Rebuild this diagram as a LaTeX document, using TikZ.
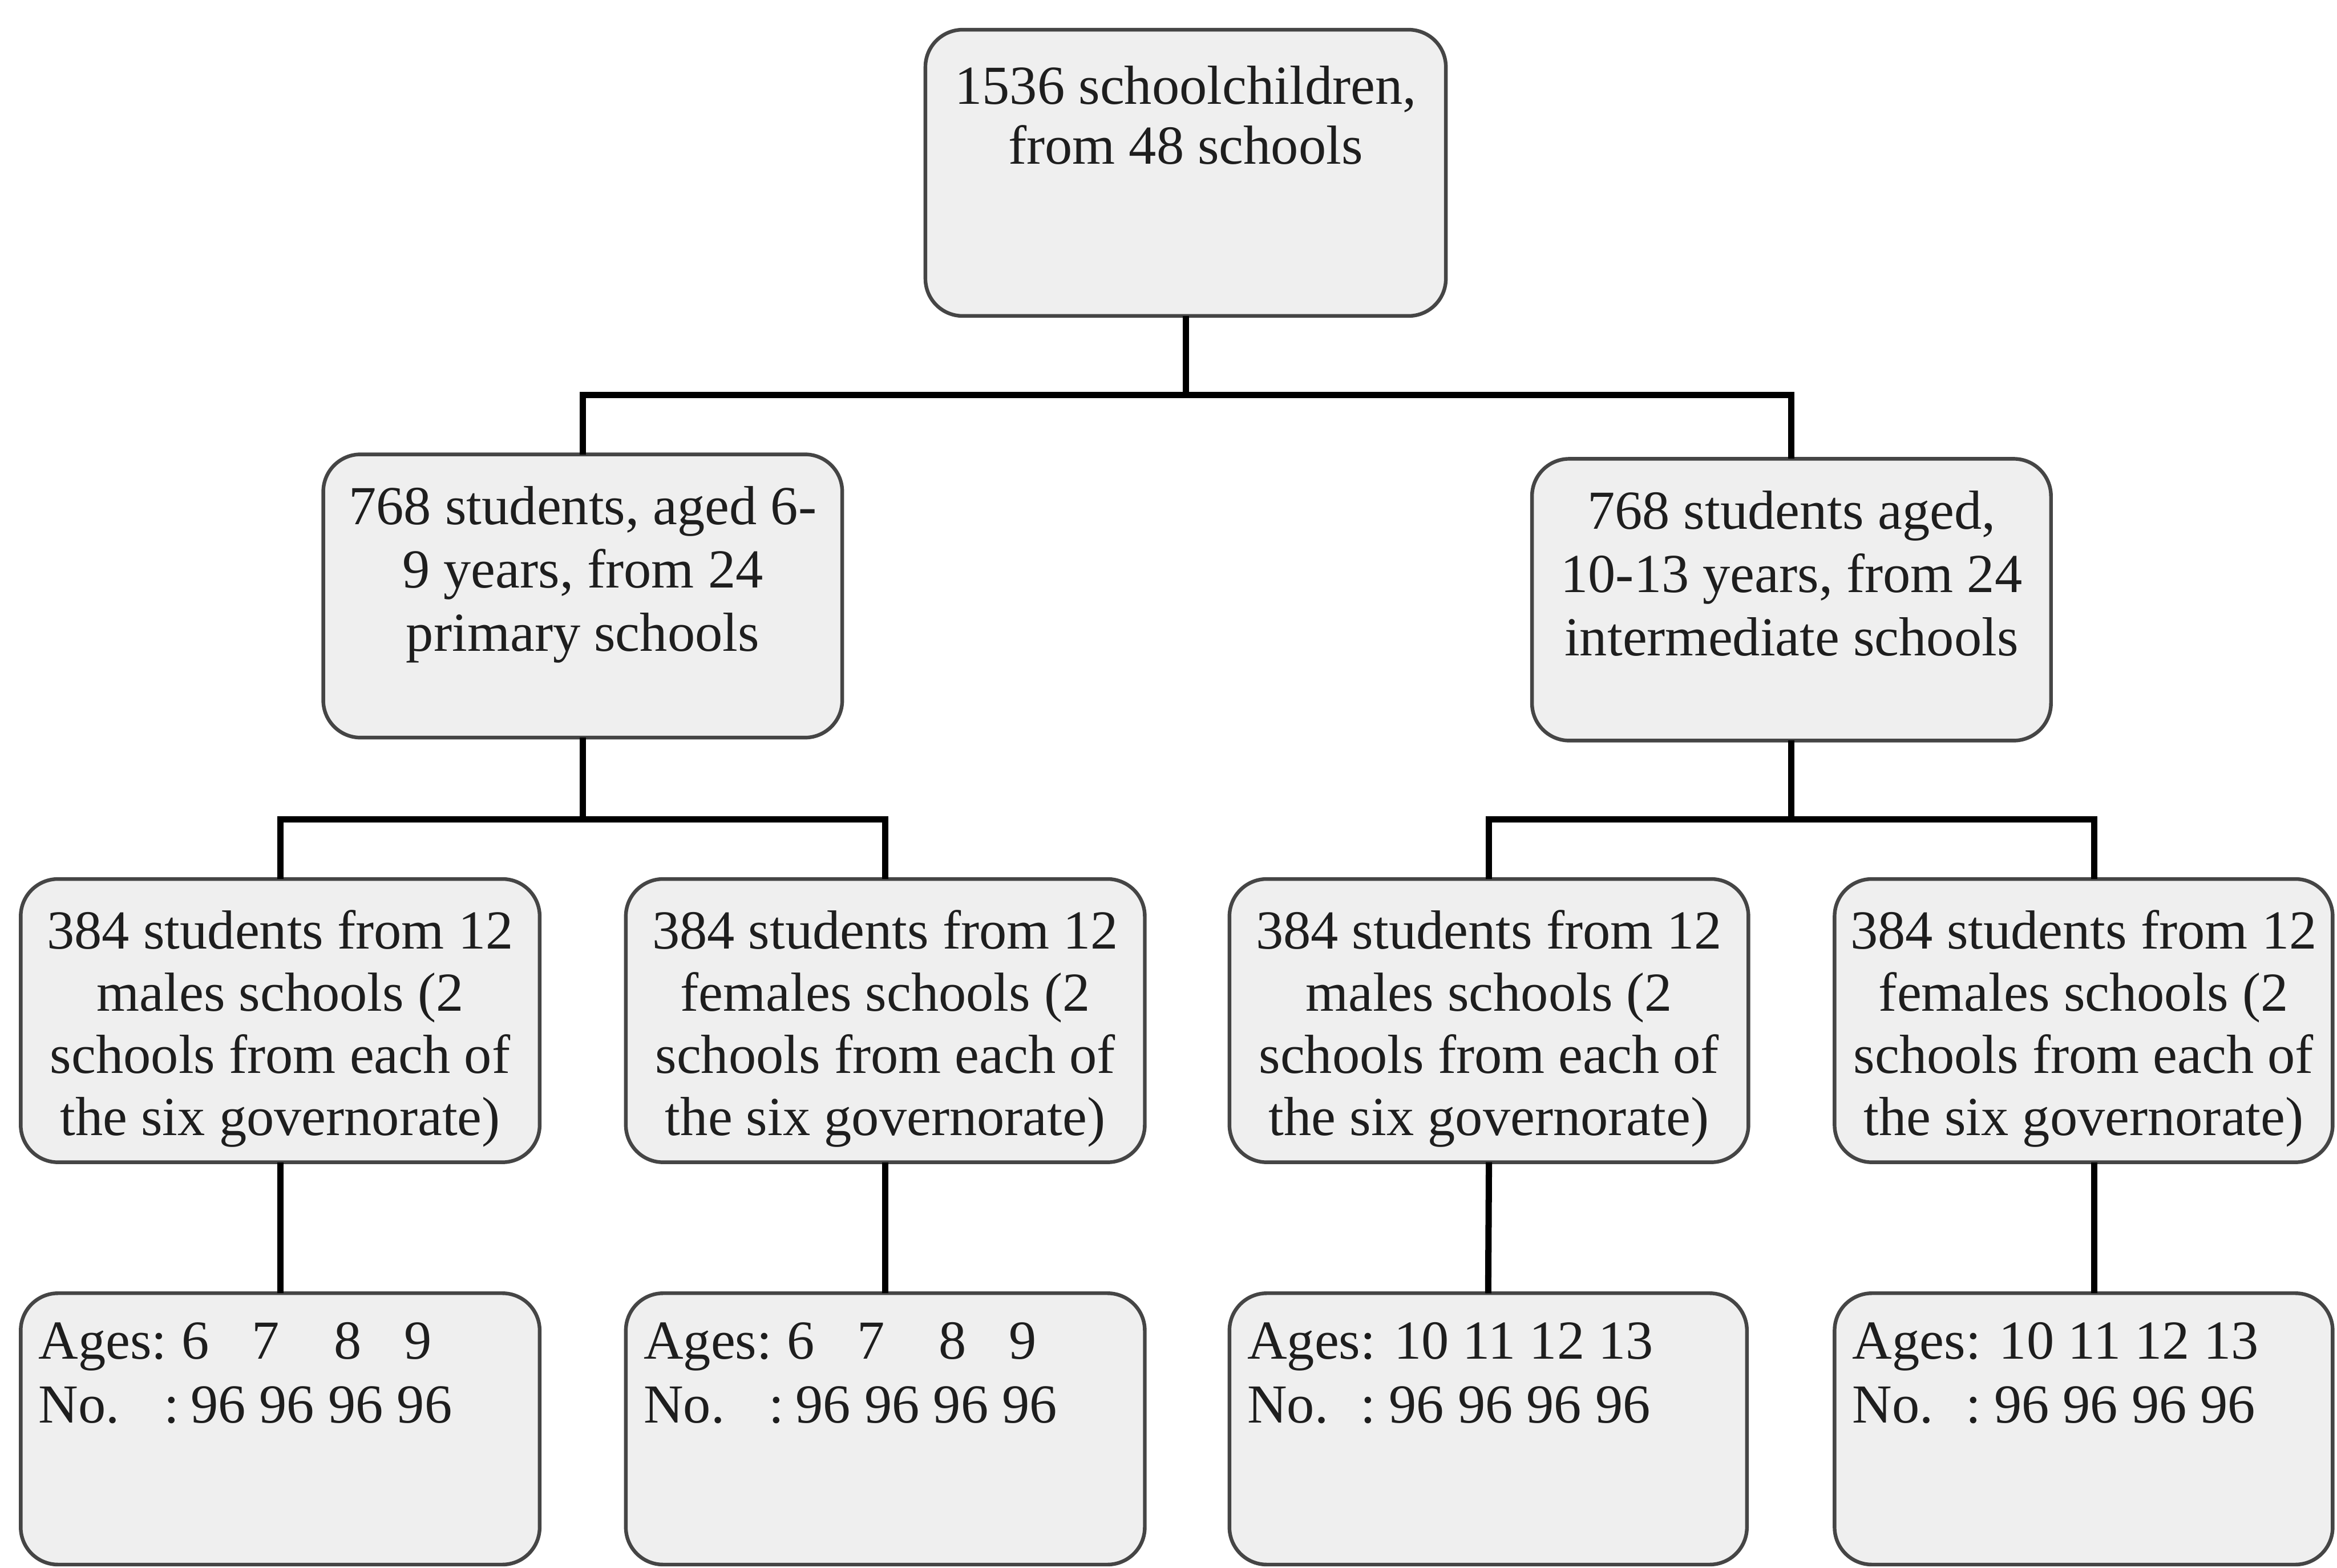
\documentclass[tikz,border=0pt]{standalone}
\usepackage{fontspec}
\setmainfont{Liberation Serif}
\definecolor{boxfill}{HTML}{EFEFEF}
\definecolor{boxline}{HTML}{454545}
\definecolor{textcol}{HTML}{1E1E1E}
\newcommand{\ctext}[5]{\begin{minipage}[c][#2][t]{#1}\centering\fontsize{10.5}{#4}\selectfont\rule{0pt}{#3}#5\end{minipage}}
\newcommand{\ltext}[3]{\begin{minipage}[c][#2][t]{#1}\raggedright\leftskip=0.12cm\fontsize{10.5}{12.2}\selectfont\rule{0pt}{0.44cm}#3\end{minipage}}
\newcommand{\agesyoung}{\makebox[0.96cm][l]{Ages:}\makebox[0.47cm][l]{6}\makebox[0.55cm][l]{7}\makebox[0.47cm][l]{8}9\\
\makebox[0.84cm][l]{No.}\makebox[0.18cm][l]{:}96 96 96 96}
\newcommand{\agesold}{Ages: 10 11 12 13\\
\makebox[0.76cm][l]{No.}\makebox[0.19cm][l]{:}96 96 96 96}
\newcommand{\threeeightfour}[1]{384 students from 12\\#1 schools (2\\schools from each of\\the six governorate)}
\tikzset{
  box/.style={draw=boxline, line width=0.7pt, fill=boxfill, rounded corners=0.25cm,
    inner sep=0pt, outer sep=0pt, text=textcol},
  conn/.style={line width=1.2pt, draw=black},
}
\begin{document}
\begin{tikzpicture}[x=0.01cm, y=-0.01cm]
\useasboundingbox (0,0) rectangle (1568,1052);
% level 1
\node[box] (top) at (795.5,116) {\ctext{3.49cm}{1.92cm}{0.50cm}{11.4pt}{1536 schoolchildren,\\from 48 schools}};
% level 2
\node[box] (pl) at (391,400) {\ctext{3.48cm}{1.90cm}{0.47cm}{12.1pt}{768 students, aged 6-\\9 years, from 24\\primary schools}};
\node[box] (pr) at (1202,402.5) {\ctext{3.48cm}{1.89cm}{0.47cm}{12.1pt}{768 students aged,\\10-13 years, from 24\\intermediate schools}};
% level 3
\node[box] (a3) at (188,685) {\ctext{3.48cm}{1.90cm}{0.47cm}{11.85pt}{\threeeightfour{males}}};
\node[box] (b3) at (594,685) {\ctext{3.48cm}{1.90cm}{0.47cm}{11.85pt}{\threeeightfour{females}}};
\node[box] (c3) at (999,685) {\ctext{3.48cm}{1.90cm}{0.47cm}{11.85pt}{\threeeightfour{males}}};
\node[box] (d3) at (1398,685) {\ctext{3.34cm}{1.90cm}{0.47cm}{11.85pt}{\threeeightfour{females}}};
% level 4
\node[box] (a4) at (188,959) {\ltext{3.48cm}{1.82cm}{\agesyoung}};
\node[box] (b4) at (594,959) {\ltext{3.48cm}{1.82cm}{\agesyoung}};
\node[box] (c4) at (998.5,959) {\ltext{3.47cm}{1.82cm}{\agesold}};
\node[box] (d4) at (1398,959) {\ltext{3.34cm}{1.82cm}{\agesold}};
% connectors
\coordinate (j1) at (795.5,265);
\coordinate (j2) at (391,550);
\coordinate (j3) at (1202,550);
\draw[conn] (top.south) -- (j1);
\draw[conn] (pl.north) |- (j1) -| (pr.north);
\draw[conn] (pl.south) -- (j2);
\draw[conn] (a3.north) |- (j2) -| (b3.north);
\draw[conn] (pr.south) -- (j3);
\draw[conn] (c3.north) |- (j3) -| ([xshift=0.07cm]d3.north);
\draw[conn] (a3.south) -- (a4.north);
\draw[conn] (b3.south) -- (b4.north);
\draw[conn] (c3.south) -- (c4.north);
\draw[conn] ([xshift=0.07cm]d3.south) -- ([xshift=0.07cm]d4.north);
\end{tikzpicture}
\end{document}
